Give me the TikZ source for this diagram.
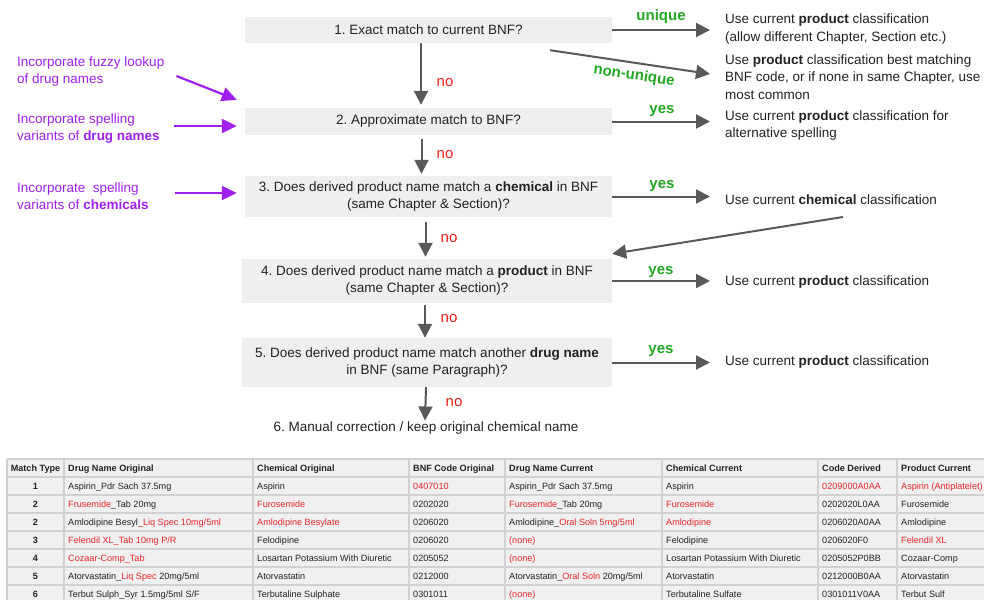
\documentclass[tikz,border=0pt]{standalone}
\usepackage{fontspec}
\setmainfont{Liberation Sans}
\usetikzlibrary{arrows.meta}
\frenchspacing

\begin{document}
\begin{tikzpicture}[x=1pt,y=-1pt,
  box/.style={fill=boxGray, text=txtDark, inner sep=0pt, minimum width=367pt,
    align=center, font=\fontsize{13.5}{17}\selectfont},
  plain/.style={text=txtDark, inner sep=0pt, font=\fontsize{13.5}{17.5}\selectfont},
  outtext/.style={plain, anchor=west, align=left},
  note/.style={text=notePurple, inner sep=0pt, anchor=west, align=left,
    font=\fontsize{13.5}{17}\selectfont},
  yeslab/.style={text=okGreen, inner sep=0pt, font=\fontsize{15}{17}\selectfont\bfseries},
  nolab/.style={text=noRed, inner sep=0pt, font=\fontsize{15}{17}\selectfont},
  arr/.style={draw=arrGray, line width=2pt, -{Triangle[length=14pt,width=14pt]}},
  parr/.style={draw=notePurple, line width=2.2pt, -{Triangle[length=15pt,width=14pt]}},
  grid/.style={draw=gridGray, line width=1.6pt},
  cell/.style={text=txtDark, inner sep=0pt, anchor=base west, font=\fontsize{9.1}{11}\selectfont},
  hcell/.style={cell, font=\fontsize{9.1}{11}\selectfont\bfseries}]

% Colours
\definecolor{boxGray}{HTML}{EFEFEF}
\definecolor{cellGray}{HTML}{F0F0F0}
\definecolor{gridGray}{HTML}{D2D2D2}
\definecolor{arrGray}{HTML}{595959}
\definecolor{txtDark}{HTML}{222222}
\definecolor{notePurple}{HTML}{A020F0}
\definecolor{okGreen}{HTML}{22A822}
\definecolor{noRed}{HTML}{F21D1D}
\definecolor{tabRed}{HTML}{E8262B}
\newcommand{\hlred}[1]{\textcolor{tabRed}{#1}}

\useasboundingbox (0,0) rectangle (984,599);

% Question boxes
\node[box, minimum height=26pt] (q1) at (428.5,30) {1. Exact match to current BNF?};
\node[box, minimum height=27pt] (q2) at (428.5,121.5) {2. Approximate match to BNF?};
\node[box, minimum height=41pt] (q3) at (428.5,196.5)
  {3. Does derived product name match a \textbf{chemical} in BNF\\(same Chapter \& Section)?};
\node[box, minimum width=370pt, minimum height=44pt] (q4) at (427,281)
  {4. Does derived product name match a \textbf{product} in BNF\\(same Chapter \& Section)?};
\node[box, minimum width=370pt, minimum height=49pt] (q5) at (427,362.5)
  {5. Does derived product name match another \textbf{drug name}\\in BNF (same Paragraph)?};
\node[plain] (q6) at (426,428) {6. Manual correction / keep original chemical name};

% Outcomes (right)
\node[outtext] (r1) at (725,29) {Use current \textbf{product} classification\\(allow different Chapter, Section etc.)};
\node[outtext] (r2) at (725,77) {Use \textbf{product} classification best matching\\BNF code, or if none in same Chapter, use\\most common};
\node[outtext] (r3) at (725,125.5) {Use current \textbf{product} classification for\\alternative spelling};
\node[outtext] (r4) at (725,199.5) {Use current \textbf{chemical} classification};
\node[outtext] (r5) at (725,282) {Use current \textbf{product} classification};
\node[outtext] (r6) at (725,362.5) {Use current \textbf{product} classification};

% Notes (left)
\node[note] (p1) at (17,71.5) {Incorporate fuzzy lookup\\of drug names};
\node[note] (p2) at (17,129) {Incorporate spelling\\variants of \textbf{drug names}};
\node[note] (p3) at (17,196.5) {Incorporate\ \ spelling\\variants of \textbf{chemicals}};

% Main flow
\draw[arr, shorten >=3pt] ([xshift=-7.5pt]q1.south) -- ([xshift=-7.5pt]q2.north);
\draw[arr, shorten <=4pt, shorten >=2pt] ([xshift=-7pt]q2.south) -- ([xshift=-7pt]q3.north);
\draw[arr, shorten <=5pt, shorten >=2pt] ([xshift=-3pt]q3.south) -- ([xshift=-1.5pt]q4.north);
\draw[arr, shorten <=2pt] ([xshift=-2pt]q4.south) -- ([xshift=-2pt]q5.north);
\draw[arr, shorten >=1pt] ([xshift=-1pt]q5.south) -- ([xshift=-1pt]q6.north);

% Outcome arrows
\draw[arr, shorten >=15pt] (q1.east) -- (q1.east -| r1.west);
\draw[arr] ([shift={(121.5,7)}]q1.south) -- ([shift={(-15,-3)}]r2.west);
\draw[arr, shorten >=15pt] (q2.east) -- (q2.east -| r3.west);
\draw[arr, shorten >=15pt] (q3.east) -- (q3.east -| r4.west);
\draw[arr] ([shift={(118,17.5)}]r4.west) -- ([yshift=5pt]q4.north east);
\draw[arr, shorten >=15pt] (q4.east) -- (q4.east -| r5.west);
\draw[arr, shorten >=15pt] (q5.east) -- (q5.east -| r6.west);

% Note arrows
\draw[parr] ([shift={(12,4.5)}]p1.east) -- ([shift={(-8,-8)}]q2.north west);
\draw[parr] ([shift={(14,-3)}]p2.east) -- ([shift={(-8,4.5)}]q2.west);
\draw[parr] ([shift={(26,-3.5)}]p3.east) -- ([shift={(-8,-3.5)}]q3.west);

% Labels
\node[yeslab] (l1) at (661,17) {unique};
\node[yeslab, rotate=-8.5] (l2) at (634,76) {non-unique};
\node[yeslab] (l3) at (662,111) {yes};
\node[yeslab] (l4) at (662,186) {yes};
\node[yeslab] (l5) at (661,272) {yes};
\node[yeslab] (l6) at (661,351) {yes};
\node[nolab] (n1) at (445,83) {no};
\node[nolab] (n2) at (445,155) {no};
\node[nolab] (n3) at (449,239) {no};
\node[nolab] (n4) at (449,319) {no};
\node[nolab] (n5) at (454,403) {no};

% Table
\begin{scope}
\clip (0,0) rectangle (984,599);
\fill[cellGray] (7,459) rectangle (990,603);
\foreach \y in {459,477,...,603} \draw[grid] (7,\y) -- (990,\y);
\foreach \x in {7,64,253,409,505,662,818,897} \draw[grid] (\x,459) -- (\x,603);
\end{scope}

\node[hcell, anchor=base] (h1) at (35.5,471.3) {Match Type};
\foreach \x/\t [count=\k from 2] in {68/Drug Name Original, 257/Chemical Original,
    413/BNF Code Original, 509/Drug Name Current, 666/Chemical Current,
    822/Code Derived, 901/Product Current}
  \node[hcell] (h\k) at (\x,471.3) {\t};

\foreach \mt/\dno/\cho/\bno/\dnc/\chc/\cdd/\prc [count=\i] in {
  1/{Aspirin\_Pdr Sach 37.5mg}/{Aspirin}/{\hlred{0407010}}/{Aspirin\_Pdr Sach 37.5mg}/{Aspirin}/{\hlred{0209000A0AA}}/{\hlred{Aspirin (Antiplatelet)}},
  2/{\hlred{Frusemide}\_Tab 20mg}/{\hlred{Furosemide}}/{0202020}/{\hlred{Furosemide}\_Tab 20mg}/{\hlred{Furosemide}}/{0202020L0AA}/{Furosemide},
  2/{Amlodipine Besyl\hlred{\_Liq Spec 10mg/5ml}}/{\hlred{Amlodipine Besylate}}/{0206020}/{Amlodipine\_\hlred{Oral Soln 5mg/5ml}}/{\hlred{Amlodipine}}/{0206020A0AA}/{Amlodipine},
  3/{\hlred{Felendil XL\_Tab 10mg P/R}}/{Felodipine}/{0206020}/{\hlred{(none)}}/{Felodipine}/{0206020F0}/{\hlred{Felendil XL}},
  4/{\hlred{Cozaar-Comp\_Tab}}/{Losartan Potassium With Diuretic}/{0205052}/{\hlred{(none)}}/{Losartan Potassium With Diuretic}/{0205052P0BB}/{Cozaar-Comp},
  5/{Atorvastatin\_\hlred{Liq Spec} 20mg/5ml}/{Atorvastatin}/{0212000}/{Atorvastatin\_\hlred{Oral Soln} 20mg/5ml}/{Atorvastatin}/{0212000B0AA}/{Atorvastatin},
  6/{Terbut Sulph\_Syr 1.5mg/5ml S/F}/{Terbutaline Sulphate}/{0301011}/{\hlred{(none)}}/{Terbutaline Sulfate}/{0301011V0AA}/{Terbut Sulf}} {
  \node[hcell, anchor=base] (t\i-1) at (35.5,{471.3+18*\i}) {\mt};
  \node[cell] (t\i-2) at (68,{471.3+18*\i}) {\dno};
  \node[cell] (t\i-3) at (257,{471.3+18*\i}) {\cho};
  \node[cell] (t\i-4) at (413,{471.3+18*\i}) {\bno};
  \node[cell] (t\i-5) at (509,{471.3+18*\i}) {\dnc};
  \node[cell] (t\i-6) at (666,{471.3+18*\i}) {\chc};
  \node[cell] (t\i-7) at (822,{471.3+18*\i}) {\cdd};
  \node[cell] (t\i-8) at (901,{471.3+18*\i}) {\prc};
}

\end{tikzpicture}
\end{document}
